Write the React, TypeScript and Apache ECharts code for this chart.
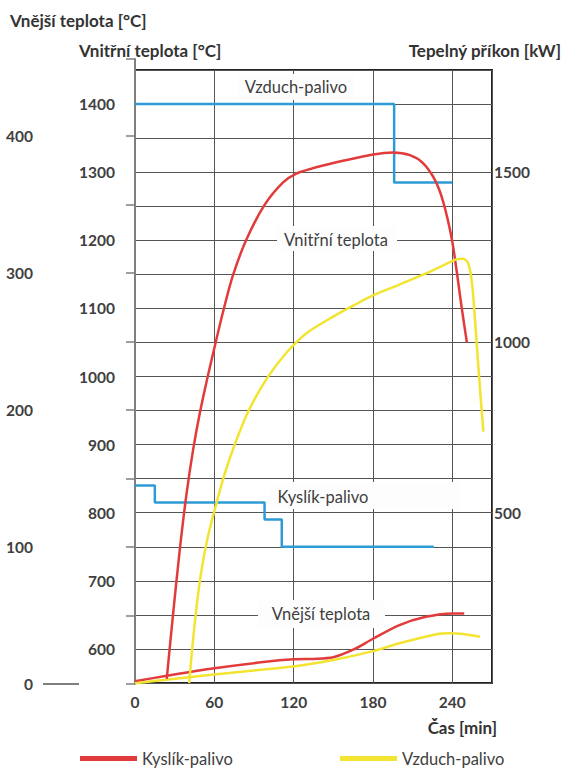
import React, { useEffect, useRef } from "react";
import * as echarts from "echarts";

// ---- axis tick labels ----
const timeTicks = [0, 60, 120, 180, 240];
const innerLabels = [600, 700, 800, 900, 1000, 1100, 1200, 1300, 1400];
const outerLabels = [0, 100, 200, 300, 400];
const outerTicks = [0, 50, 100, 150, 200, 250, 300, 350, 400, 456];
const powerLabels = [500, 1000, 1500];

// ---- series data: [time (min), value] ----
// Vnitřní teplota [°C]
const kyslikInner: [number, number][] = [
  [24, 556], [29, 655], [34, 748], [39, 828], [44, 893], [49, 946], [55, 1000],
  [61, 1050], [67, 1098], [74, 1148], [84, 1200], [98, 1252], [112, 1285],
  [122, 1298], [135, 1306], [158, 1317], [180, 1326], [195, 1329], [208, 1325],
  [218, 1313], [227, 1288], [233, 1257], [239.5, 1203], [243.5, 1152], [247, 1102],
  [251, 1050],
];
const vzduchInner: [number, number][] = [
  [41, 550], [44, 615], [48, 685], [52, 735], [56, 772], [62, 817], [68, 858],
  [76, 903], [86, 950], [100, 998], [115, 1036], [130, 1064], [150, 1088],
  [165, 1104], [180, 1119], [200, 1135], [221, 1152], [235, 1165], [243, 1172],
  [248, 1173], [252, 1166], [255, 1135], [258, 1060], [261, 980], [263.5, 919],
];
// Vnější teplota [°C]
const kyslikOuter: [number, number][] = [
  [0, 2], [24, 6], [60, 11.5], [97, 16], [120, 18], [135, 18.3], [150, 19.5],
  [165, 25], [180, 33], [200, 43], [220, 49], [240, 51.5], [249, 51.5],
];
const vzduchOuter: [number, number][] = [
  [0, 0.5], [41, 5], [60, 7], [97, 10.5], [125, 13.5], [150, 17.5], [180, 24],
  [200, 29.7], [228, 36.3], [238, 37], [248, 36.5], [261, 34.5],
];
// Tepelný příkon [kW]
const vzduchPower: [number, number][] = [[0, 1700], [196, 1470], [240, 1470]];
const kyslikPower: [number, number][] = [[0, 580], [15, 530], [98, 480], [111, 400], [226, 400]];

const RED = "#e23b3b";
const YELLOW = "#f2e430";
const BLUE = "#2e9bd6";
const TXT = "#404040";
const FONT = "Lato";

export default function App() {
  const ref = useRef<HTMLDivElement>(null);
  useEffect(() => {
    document.body.style.margin = "0";
    const chart = echarts.init(ref.current!, null, { renderer: "svg" });
    const boldLabel = { color: TXT, fontFamily: FONT, fontWeight: "bold" as const, fontSize: 15.5 };
    const noteText = (text: string, x: number, y: number) => ({
      type: "text", x, y, z: 60,
      style: { text, fill: TXT, font: `16.5px ${FONT}`, align: "center", verticalAlign: "middle" },
    });
    const noteBox = (x: number, y: number, w: number, h: number) => ({
      type: "rect", z: 50, shape: { x, y, width: w, height: h }, style: { fill: "#fdfdfd" },
    });
    const title = (text: string, x: number, y: number, align: string) => ({
      type: "text", x, y, z: 60,
      style: { text, fill: "#333", font: `bold 17px ${FONT}`, align, verticalAlign: "middle" },
    });
    const curve = (name: string, data: [number, number][], color: string, xi: number, yi: number) => ({
      name, type: "line", xAxisIndex: xi, yAxisIndex: yi, smooth: 0.3,
      data, symbol: "none", lineStyle: { color, width: 2.5 }, itemStyle: { color },
    });
    const step = (name: string, data: [number, number][]) => ({
      name, type: "line", xAxisIndex: 0, yAxisIndex: 1, step: "end",
      data, symbol: "none", lineStyle: { color: BLUE, width: 2.5 }, itemStyle: { color: BLUE },
    });
    const legendItem = (name: string, left: number) => ({
      data: [name], left, top: 745, icon: "rect", itemWidth: 57, itemHeight: 5, itemGap: 10,
      textStyle: { color: TXT, fontFamily: FONT, fontSize: 16.5 },
    });
    chart.setOption({
      animation: false,
      grid: [
        { left: 135, top: 70, width: 357, height: 613, show: true, borderColor: "#222", borderWidth: 2, backgroundColor: "transparent" },
        { left: 135, top: 59, width: 357, height: 625 },
      ],
      xAxis: [
        {
          gridIndex: 0, type: "value", min: 0, max: 270, interval: 60,
          axisLine: { show: false }, axisTick: { show: false },
          splitLine: { show: true, lineStyle: { color: "#555", width: 1 } },
          axisLabel: { ...boldLabel, margin: 11, formatter: (v: number) => (timeTicks.includes(v) ? String(v) : "") },
        },
        { gridIndex: 1, type: "value", min: 0, max: 270, show: false },
      ],
      yAxis: [
        {
          gridIndex: 0, type: "value", min: 550, max: 1450, interval: 50, position: "left",
          axisLine: { show: false }, axisTick: { show: false },
          splitLine: { show: true, lineStyle: { color: "#555", width: 1 } },
          axisLabel: { ...boldLabel, margin: 20, formatter: (v: number) => (innerLabels.includes(v) ? String(v) : "") },
        },
        {
          gridIndex: 0, type: "value", min: 0, max: 1800, interval: 500, position: "right",
          axisLine: { show: false }, axisTick: { show: false }, splitLine: { show: false },
          axisLabel: { ...boldLabel, margin: 2, formatter: (v: number) => (powerLabels.includes(v) ? String(v) : "") },
        },
        {
          gridIndex: 1, type: "value", min: 0, max: 456, interval: 50, position: "left", offset: 74,
          axisLine: { show: true, lineStyle: { color: "#7f7f7f", width: 2 } },
          axisTick: { show: true, inside: false, length: 9, customValues: outerTicks, lineStyle: { color: "#7f7f7f", width: 1.5 } },
          splitLine: { show: false },
          axisLabel: { ...boldLabel, margin: 28, customValues: outerLabels, formatter: (v: number) => (outerLabels.includes(v) ? String(v) : "") },
        },
      ],
      legend: [legendItem("Kyslík-palivo", 75), legendItem("Vzduch-palivo", 335)],
      graphic: [
        title("Vnější teplota [°C]", 10, 20, "left"),
        title("Vnitřní teplota [°C]", 79, 50, "left"),
        title("Tepelný příkon [kW]", 561, 50, "right"),
        title("Čas [min]", 497, 727, "right"),
        { type: "line", z: 60, shape: { x1: 43, y1: 684, x2: 79, y2: 684 }, style: { stroke: "#7f7f7f", lineWidth: 2 } },
        noteBox(238, 74, 116, 26), noteText("Vzduch-palivo", 296, 87),
        noteBox(277, 226, 120, 25), noteText("Vnitřní teplota", 336, 240),
        noteBox(270, 482, 190, 27), noteText("Kyslík-palivo", 323, 497),
        noteBox(258, 600, 127, 28), noteText("Vnější teplota", 321, 614),
      ],
      series: [
        step("Příkon vzduch-palivo", vzduchPower),
        step("Příkon kyslík-palivo", kyslikPower),
        curve("Kyslík-palivo", kyslikOuter, RED, 1, 2),
        curve("Vzduch-palivo", vzduchOuter, YELLOW, 1, 2),
        curve("Kyslík-palivo", kyslikInner, RED, 0, 0),
        curve("Vzduch-palivo", vzduchInner, YELLOW, 0, 0),
      ],
    });
    return () => chart.dispose();
  }, []);
  return <div ref={ref} style={{ width: 563, height: 772 }} />;
}
